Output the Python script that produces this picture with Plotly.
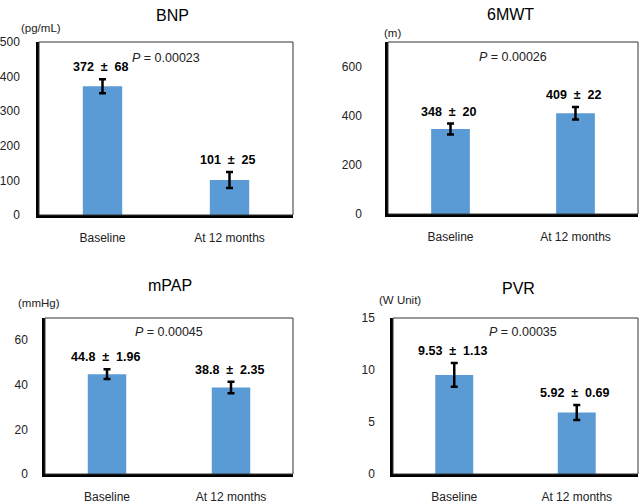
import plotly.graph_objects as go

W, H = 643, 504

categories = ["Baseline", "At 12 months"]

titles = ["BNP", "6MWT", "mPAP", "PVR"]
units = ["(pg/mL)", "(m)", "(mmHg)", "(W Unit)"]
p_values = ["0.00023", "0.00026", "0.00045", "0.00035"]

bnp_values = [372, 101]
bnp_errors = [20, 23]
bnp_labels = ["372 ± 68", "101 ± 25"]

mwt_values = [346, 410]
mwt_errors = [22, 25]
mwt_labels = ["348 ± 20", "409 ± 22"]

mpap_values = [44.8, 38.8]
mpap_errors = [2.2, 2.6]
mpap_labels = ["44.8 ± 1.96", "38.8 ± 2.35"]

pvr_values = [9.53, 5.92]
pvr_errors = [1.15, 0.72]
pvr_labels = ["9.53 ± 1.13", "5.92 ± 0.69"]

y_ranges = [[0, 500], [0, 700], [0, 70], [0, 15]]
y_dticks = [100, 200, 20, 5]

series = [
    (bnp_values, bnp_errors, bnp_labels),
    (mwt_values, mwt_errors, mwt_labels),
    (mpap_values, mpap_errors, mpap_labels),
    (pvr_values, pvr_errors, pvr_labels),
]


def px(x):
    return x / W


def py(y):
    return (H - y) / H


# panel boxes in page pixels: x0, x1, ytop, ybottom
boxes = [(39, 293, 42, 215), (388, 638, 42, 214), (45, 293, 318, 474), (393, 638, 318, 474)]
standoffs = [14, 21, 12, 13]
title_pos = [(172, 15), (510, 14), (170, 285), (518, 288)]
unit_pos = [(41, 28), (392, 33), (39, 303), (400, 300)]
p_xpos = [0.5, 0.5, 0.5, 0.53]

FONT = "Arial, Liberation Sans, sans-serif"
BAR_COLOR = "#5B9BD5"

fig = go.Figure()
layout = dict(
    width=W, height=H,
    margin=dict(l=0, r=0, t=0, b=0, autoexpand=False),
    paper_bgcolor="white", plot_bgcolor="white",
    showlegend=False,
    font=dict(family=FONT, size=12, color="#222"),
    annotations=[], shapes=[],
)

for i, (vals, errs, labs) in enumerate(series):
    n = "" if i == 0 else str(i + 1)
    xa, ya = "x" + n, "y" + n
    x0, x1, yt, yb = boxes[i]
    fig.add_trace(go.Bar(
        x=categories, y=vals, xaxis=xa, yaxis=ya,
        width=0.31, marker=dict(color=BAR_COLOR, line=dict(width=0)),
        error_y=dict(type="data", array=errs, visible=True, color="black",
                     thickness=2.5, width=3.5),
        hoverinfo="skip",
    ))
    layout["xaxis" + n] = dict(
        domain=[px(x0), px(x1)], anchor=ya, automargin=False,
        range=[-0.5, 1.5], showline=True, linecolor="black", linewidth=2.5,
        showgrid=False, zeroline=False, ticks="", tickfont=dict(size=12, color="#222"),
        ticklabelstandoff=10, fixedrange=True,
    )
    layout["yaxis" + n] = dict(
        domain=[py(yb), py(yt)], anchor=xa, automargin=False,
        range=y_ranges[i], dtick=y_dticks[i], showline=True, linecolor="black",
        linewidth=2.5, showgrid=False, zeroline=False, ticks="",
        tickfont=dict(size=12, color="#222"), ticklabelstandoff=standoffs[i],
        fixedrange=True,
    )
    # thin outer box
    layout["shapes"].append(dict(
        type="rect", xref=xa + " domain", yref=ya + " domain",
        x0=0, x1=1, y0=0, y1=1, line=dict(color="#333", width=1), layer="above",
    ))
    # value labels
    for c, v, e, t in zip(categories, vals, errs, labs):
        layout["annotations"].append(dict(
            x=c, y=v + e, xref=xa, yref=ya,
            text="<b>" + t.replace(" ± ", "&nbsp;&nbsp;±&nbsp;&nbsp;") + "</b>",
            showarrow=False, xanchor="center", yanchor="bottom", yshift=3, xshift=-2,
            font=dict(size=12.5, color="black", family=FONT),
        ))
    # P value
    layout["annotations"].append(dict(
        x=p_xpos[i], y=0.91, xref=xa + " domain", yref=ya + " domain",
        text="<i>P</i> = " + p_values[i], showarrow=False,
        xanchor="center", yanchor="middle",
        font=dict(size=12.5, color="#222", family=FONT),
    ))
    # title
    tx, ty = title_pos[i]
    layout["annotations"].append(dict(
        x=px(tx), y=py(ty), xref="paper", yref="paper", text=titles[i],
        showarrow=False, xanchor="center", yanchor="middle",
        font=dict(size=16, color="black", family=FONT),
    ))
    ux, uy = unit_pos[i]
    layout["annotations"].append(dict(
        x=px(ux), y=py(uy), xref="paper", yref="paper", text=units[i],
        showarrow=False, xanchor="center", yanchor="middle",
        font=dict(size=11.5, color="#222", family=FONT),
    ))

fig.update_layout(**layout)
fig.write_html(
    "out.html",
    config={"displayModeBar": False},
    post_script="document.body.style.margin='0px';document.body.style.overflow='hidden';",
)
